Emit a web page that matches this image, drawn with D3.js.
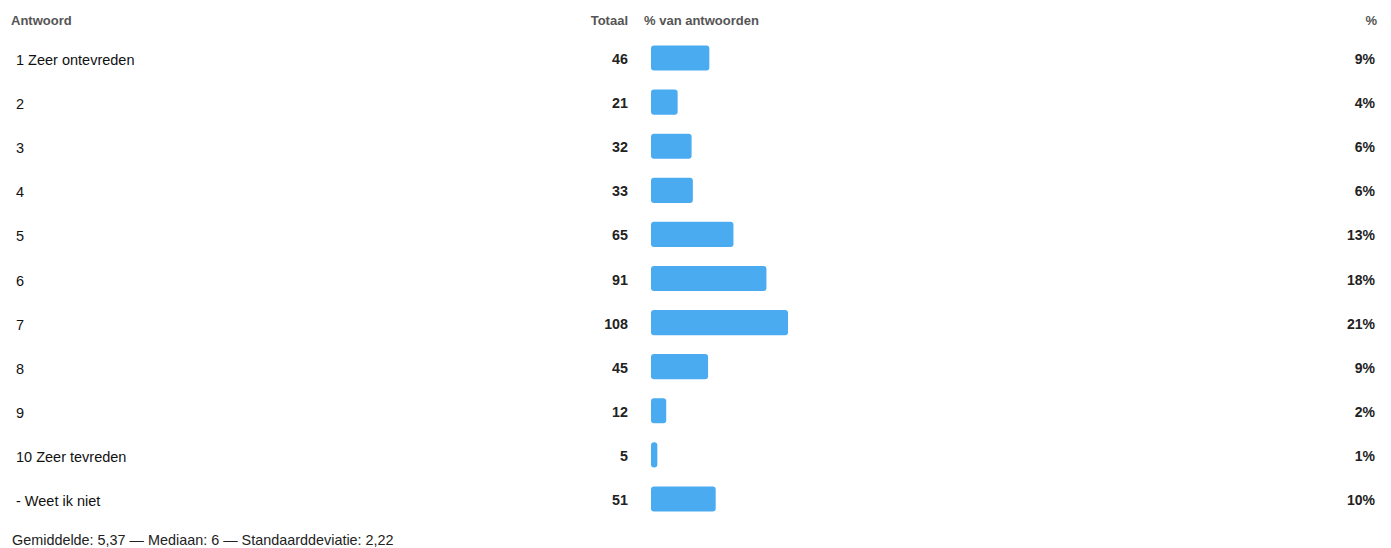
<!DOCTYPE html>
<html><head><meta charset="utf-8">
<script src="https://cdn.jsdelivr.net/npm/d3@7"></script>
<style>body{margin:0;background:#fff;}svg{display:block;font-family:"Liberation Sans",Arial,sans-serif;}</style>
</head><body>
<script>
const categories = ["1 Zeer ontevreden","2","3","4","5","6","7","8","9","10 Zeer tevreden","- Weet ik niet"];
const totals = [46,21,32,33,65,91,108,45,12,5,51];
const percents = ["9%","4%","6%","6%","13%","18%","21%","9%","2%","1%","10%"];
const headers = ["Antwoord","Totaal","% van antwoorden","%"];
const footer = "Gemiddelde: 5,37 — Mediaan: 6 — Standaarddeviatie: 2,22";

const W = 1391, H = 548;
const svg = d3.select("body").append("svg").attr("width", W).attr("height", H);

const y = d3.scaleBand().domain(categories).range([36, 521]).paddingInner(0.43).paddingOuter(0.215);
const x = d3.scaleLinear().domain([0, 108]).range([651, 788]);

// headers
const hy = 25;
const hdr = (xx, anchor, t) => svg.append("text").attr("x", xx).attr("y", hy).attr("text-anchor", anchor).text(t)
  .attr("font-size", 13).attr("font-weight", "bold").attr("fill", "#555");
hdr(11, "start", headers[0]);
hdr(628, "end", headers[1]);
hdr(644, "start", headers[2]);
hdr(1377, "end", headers[3]);

const rows = svg.selectAll("g.row").data(categories).join("g").attr("class", "row");

rows.append("text").attr("x", 16).attr("y", d => y(d) + y.bandwidth() / 2 + 7)
  .attr("font-size", 14.5).attr("fill", "#111").text(d => d);

rows.append("text").attr("x", 628).attr("y", d => y(d) + y.bandwidth() / 2 + 6)
  .attr("text-anchor", "end").attr("font-size", 14.3).attr("font-weight", "bold").attr("fill", "#222")
  .text((d, i) => totals[i]);

rows.append("rect").attr("x", x(0)).attr("y", d => y(d))
  .attr("width", (d, i) => Math.max(x(totals[i]) - x(0), 5)).attr("height", y.bandwidth())
  .attr("rx", 3).attr("fill", "#4aabf1");

rows.append("text").attr("x", 1375).attr("y", d => y(d) + y.bandwidth() / 2 + 6)
  .attr("text-anchor", "end").attr("font-size", 14).attr("font-weight", "bold").attr("fill", "#222")
  .text((d, i) => percents[i]);

svg.append("text").attr("x", 12).attr("y", 545).attr("font-size", 14.4).attr("fill", "#222").text(footer);
</script>
</body></html>
